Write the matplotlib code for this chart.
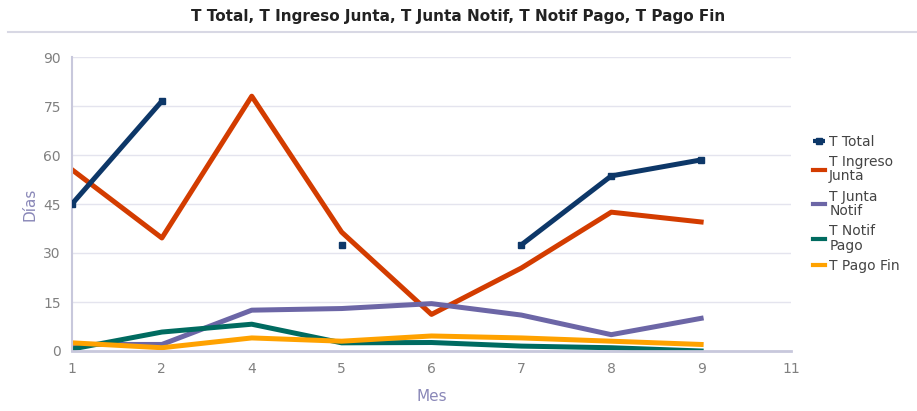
import matplotlib
matplotlib.use("Agg")
import matplotlib.pyplot as plt
import numpy as np

meses = ['1', '2', '4', '5', '6', '7', '8', '9', '11']
t_total = [45, 76.5, None, 32.4, None, 32.5, 53.6, 58.5]
t_ingreso_junta = [55.5, 34.6, 78, 36.4, 11.2, 25.4, 42.5, 39.5]
t_junta_notif = [2, 2, 12.5, 13, 14.5, 11, 5, 10]
t_notif_pago = [0.6, 5.8, 8.2, 2.5, 2.6, 1.5, 1, 0]
t_pago_fin = [2.5, 1, 4, 3, 4.6, 4, 3, 2]

series = [
    ('T Total', t_total, '#0d3768'),
    ('T Ingreso\nJunta', t_ingreso_junta, '#d33c00'),
    ('T Junta\nNotif', t_junta_notif, '#6c66a6'),
    ('T Notif\nPago', t_notif_pago, '#006b60'),
    ('T Pago Fin', t_pago_fin, '#ffa200'),
]

fig = plt.figure(figsize=(9.17, 4.11), dpi=100)
ax = fig.add_axes([72/917, 1 - 351/411, (791 - 72)/917, (351 - 57)/411])

x = np.arange(len(meses))
handles = []
for name, vals, col in series:
    y = np.array([np.nan if v is None else v for v in vals], dtype=float)
    xs = x[:len(y)]
    if name == 'T Total':
        ln, = ax.plot(xs, y, color=col, lw=3.6, marker='s', ms=5,
                      solid_capstyle='butt', zorder=3)
    else:
        ln, = ax.plot(xs, y, color=col, lw=3.6, solid_joinstyle='round', zorder=2)
    handles.append(ln)

ax.set_xlim(0, len(meses) - 1)
ax.set_ylim(0, 90)
ax.set_xticks(x)
ax.set_xticklabels(meses)
ax.set_yticks(range(0, 91, 15))
ax.grid(axis='y', color='#e4e4ee', lw=1)
ax.set_axisbelow(True)
for s in ['top', 'right']:
    ax.spines[s].set_visible(False)
ax.spines['left'].set_color('#c8c8dc')
ax.spines['bottom'].set_color('#c8c8dc')
ax.spines['left'].set_linewidth(1.5)
ax.spines['bottom'].set_linewidth(2)
ax.tick_params(length=0, colors='#808080', labelsize=10, pad=8)
ax.set_xlabel('Mes', color='#8a88b8', fontsize=11, labelpad=9)
ax.set_ylabel('Días', color='#8a88b8', fontsize=11, labelpad=4)

fig.text(0.5, 1 - 17/411, 'T Total, T Ingreso Junta, T Junta Notif, T Notif Pago, T Pago Fin',
         ha='center', va='center', fontsize=11, fontweight='bold', color='#222222',
         family=['Liberation Sans Narrow', 'DejaVu Sans'])
fig.add_artist(plt.Line2D([8/917, 1], [1 - 32/411, 1 - 32/411], color='#d8d8e4', lw=1.5))

leg = fig.legend(handles, [s[0] for s in series], loc='upper left',
                 bbox_to_anchor=(800/917, 1 - 122/411), frameon=False,
                 fontsize=10, handlelength=0.9, handletextpad=0.3,
                 labelspacing=0.45, labelcolor='#444444', markerscale=0.8)
for t in leg.get_texts():
    t.set_linespacing(1.05)
for h in leg.legend_handles:
    h.set_linewidth(3)

fig.savefig('out.png', dpi=100)
